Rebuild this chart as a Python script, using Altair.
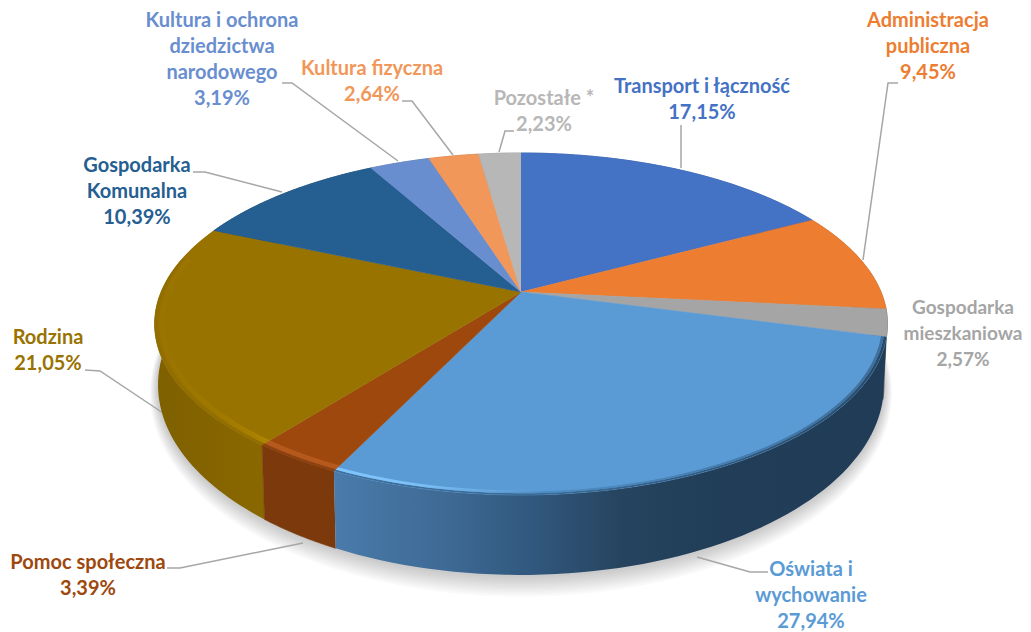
import math
import altair as alt
import pandas as pd

# ---- values ----
names = ["Transport i łączność", "Administracja publiczna", "Gospodarka mieszkaniowa",
         "Oświata i wychowanie", "Pomoc społeczna", "Rodzina", "Gospodarka Komunalna",
         "Kultura i ochrona dziedzictwa narodowego", "Kultura fizyczna", "Pozostałe *"]
shares = [17.15, 9.45, 2.57, 27.94, 3.39, 21.05, 10.39, 3.19, 2.64, 2.23]
value_labels = ["17,15%", "9,45%", "2,57%", "27,94%", "3,39%", "21,05%", "10,39%", "3,19%", "2,64%", "2,23%"]
top_colors = ["#4472C4", "#ED7D31", "#A5A5A5", "#5B9BD5", "#9E480E", "#997300", "#255E91", "#698ED0", "#F1975A", "#B7B7B7"]
wall_colors = ["#2F5290", "#A85620", "#4A4A4A", "#24425F", "#7C390C", "#836300", "#1B4569", "#4D6A9C", "#B06F42", "#888888"]

# ---- label layout (page pixels): centre x, first line y, line breaks ----
label_lines = [["Transport i łączność", "17,15%"], ["Administracja", "publiczna", "9,45%"],
               ["Gospodarka", "mieszkaniowa", "2,57%"], ["Oświata i", "wychowanie", "27,94%"],
               ["Pomoc społeczna", "3,39%"], ["Rodzina", "21,05%"], ["Gospodarka", "Komunalna", "10,39%"],
               ["Kultura i ochrona", "dziedzictwa", "narodowego", "3,19%"], ["Kultura fizyczna", "2,64%"],
               ["Pozostałe *", "2,23%"]]
label_x = [702, 928, 963, 811, 88, 48, 137, 222, 372, 544]
label_y = [87, 21, 308, 570, 563, 338, 166, 21, 69, 99]
label_size = [20, 20, 19, 20, 20, 20, 20, 20, 20, 20]
leaders = [[(681, 125), (681, 168)],
           [(898, 83), (888, 83), (863, 260)],
           [],
           [(768, 572), (750, 572), (697, 557)],
           [(167, 568), (180, 568), (303, 543)],
           [(85, 370), (100, 371), (163, 413)],
           [(193, 172), (205, 172), (282, 192)],
           [(282, 83), (292, 83), (398, 161)],
           [(402, 101), (412, 101), (453, 155)],
           [(514, 131), (505, 131), (499, 152)]]

# ---- projection of the tilted disc ----
CX, CY, A, B, K = 521.0, 292.0, 360.0, 165.0, 0.187
E_CY, E_RY, E_RX = 324.0, 171.0, 366.5
BASE_CY, BASE_RY, BASE_RX = 385.0, 190.0, 363.0


def rim(theta, r=1.0):
    u, v = r * math.sin(theta), r * math.cos(theta)
    w = 1 + K * v
    return CX + A * u / w, CY - B * v / w


def base(theta):
    x, y = rim(theta)
    return CX + (x - CX) / E_RX * BASE_RX, BASE_CY + (y - E_CY) / E_RY * BASE_RY


def arc(t0, t1, fn, n=60):
    return [fn(t0 + (t1 - t0) * i / n) for i in range(n + 1)]


X = alt.X("x:Q", axis=None, scale=alt.Scale(domain=[8, 1023], nice=False, zero=False))
Y = alt.Y("y:Q", axis=None, scale=alt.Scale(domain=[632, 8], nice=False, zero=False))


def poly(points, fill, opacity=1.0, stroke=True):
    df = pd.DataFrame(points, columns=["x", "y"])
    df["i"] = range(len(df))
    kw = {"fill": fill, "opacity": opacity, "interpolate": "linear"}
    if stroke and isinstance(fill, str):
        kw.update(stroke=fill, strokeWidth=0.6)
    else:
        kw.update(strokeWidth=0)
    return alt.Chart(df).mark_line(**kw).encode(x=X, y=Y, order="i:Q")


def grad(stops):
    return alt.LinearGradient(gradient="linear", x1=0, y1=0, x2=1, y2=0,
                              stops=[alt.GradientStop(offset=o, color=c) for o, c in stops])


def band(t0, t1, r_out, r_in, fill, opacity=1.0):
    outer = arc(t0, t1, lambda t: rim(t, r_out))
    inner = arc(t1, t0, lambda t: rim(t, r_in))
    return poly(outer + inner, fill, opacity, stroke=False)


# slice angles
edges = [0.0]
for s in shares:
    edges.append(edges[-1] + s / 100 * 2 * math.pi)

layers = []

# soft shadow below the disc
for k in range(1, 10):
    pts = [(CX + (BASE_RX + k * 0.9) * math.sin(a / 90 * math.pi),
            BASE_CY + k * 0.9 + (BASE_RY + k * 1.5) * math.cos(a / 90 * math.pi)) for a in range(181)]
    layers.append(poly(pts, "#000000", 0.022, stroke=False))

# leader lines
for seg in leaders:
    if seg:
        df = pd.DataFrame(seg, columns=["x", "y"])
        df["i"] = range(len(df))
        layers.append(alt.Chart(df).mark_line(color="#A6A6A6", strokeWidth=1.5).encode(x=X, y=Y, order="i:Q"))

# walls: back ones first, the front slices last
wall_fill = list(wall_colors)
wall_fill[3] = grad([(0, "#4A7BAA"), (0.2, "#3E6A95"), (0.36, "#31587E"), (0.52, "#26445F"), (0.7, "#213D58"), (1, "#203C57")])
wall_fill[5] = grad([(0, "#7E6000"), (1, "#8A6800")])
for i in [0, 9, 8, 7, 6, 1, 2, 5, 4, 3]:
    t0, t1 = edges[i], edges[i + 1]
    layers.append(poly(arc(t0, t1, rim) + arc(t1, t0, base), wall_fill[i]))

# top faces
for i in range(len(shares)):
    t0, t1 = edges[i], edges[i + 1]
    layers.append(poly([(CX, CY)] + arc(t0, t1, rim), top_colors[i]))

# bevelled front edge: soft blend towards the wall, with a thin highlight
t0, t1 = edges[3], edges[4]
layers.append(band(t0, t1, 1.0, 0.993, grad([(0, "#3F6F9C"), (0.4, "#3A6A94"), (1, "#284A69")])))
layers.append(band(t0, t1, 0.993, 0.986, grad([(0, "#5A9CD6"), (0.4, "#4D8CC2"), (1, "#3F6F9C")])))
layers.append(band(t0, t1, 0.993, 0.982,
                   grad([(0, "rgba(130,200,255,0.95)"), (0.14, "rgba(130,200,255,0.85)"), (0.38, "rgba(130,195,250,0)"), (1, "rgba(91,155,213,0)")])))

t0, t1 = edges[4], edges[5]
layers.append(band(t0, t1, 1.0, 0.988, "#8B4110"))
layers.append(band(t0, t1, 0.992, 0.974, "#BC5E22", 0.8))

t0, t1 = edges[5], math.radians(282)
layers.append(band(t0, t1, 1.0, 0.988, "#926E00"))
layers.append(band(t0, t1, 0.992, 0.974,
                   grad([(0, "rgba(160,122,0,0.15)"), (0.6, "rgba(168,128,0,0.5)"), (1, "rgba(176,136,0,0.9)")])))

# labels
rows = []
for lines, lx, ly, c, sz in zip(label_lines, label_x, label_y, top_colors, label_size):
    for j, t in enumerate(lines):
        rows.append({"x": lx, "y": ly + j * 26, "t": t, "c": c, "s": sz})
layers.append(alt.Chart(pd.DataFrame(rows)).mark_text(
    font="Lato", fontWeight="bold", align="center", baseline="middle", clip=False
).encode(x=X, y=Y, text="t:N", color=alt.Color("c:N", scale=None, legend=None),
         size=alt.Size("s:Q", scale=None, legend=None)))

chart = alt.layer(*layers).properties(
    width=1015, height=624, padding=0, autosize=alt.AutoSizeParams(type="none"),
    background="#FFFFFF"
).configure_view(stroke=None)

chart.save("out.html", embed_options={"renderer": "svg", "actions": False})
